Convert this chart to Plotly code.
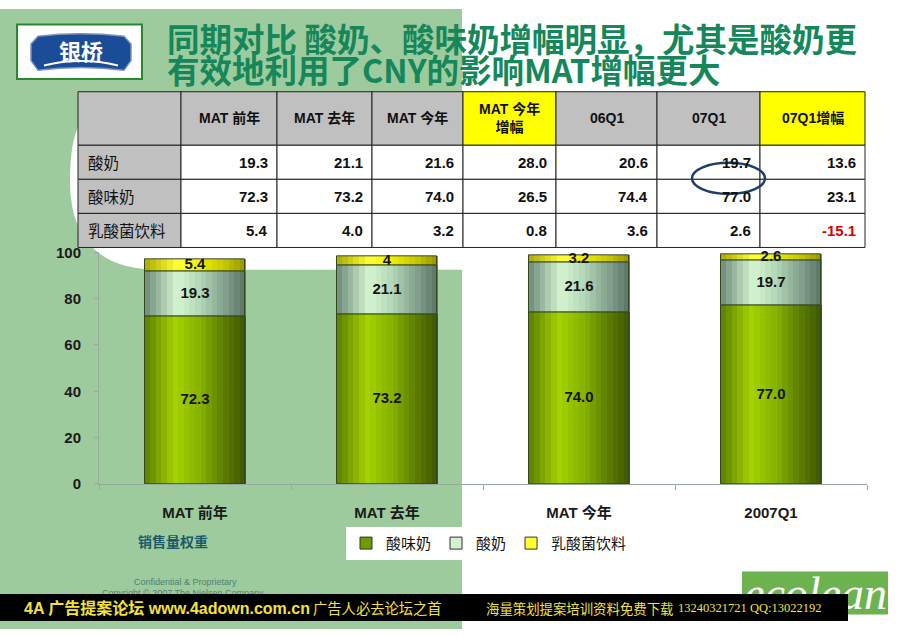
import plotly.graph_objects as go

# ---------------- data ----------------
categories = ["MAT 前年", "MAT 去年", "MAT 今年", "2007Q1"]
series_names = ["酸味奶", "酸奶", "乳酸菌饮料"]
sour_flavored = [72.3, 73.2, 74.0, 77.0]   # 酸味奶
yogurt = [19.3, 21.1, 21.6, 19.7]          # 酸奶
lactic_drink = [5.4, 4.0, 3.2, 2.6]        # 乳酸菌饮料
lactic_labels = ["5.4", "4", "3.2", "2.6"]
y_ticks = [0, 20, 40, 60, 80, 100]

table_header = ["", "MAT 前年", "MAT 去年", "MAT 今年", "MAT 今年<br>增幅", "06Q1", "07Q1", "07Q1增幅"]
table_rows = ["酸奶", "酸味奶", "乳酸菌饮料"]
col_mat_prev = [19.3, 72.3, 5.4]
col_mat_last = [21.1, 73.2, 4.0]
col_mat_now = [21.6, 74.0, 3.2]
col_mat_growth = [28.0, 26.5, 0.8]
col_06q1 = [20.6, 74.4, 3.6]
col_07q1 = [19.7, 77.0, 2.6]
col_07q1_growth = [13.6, 23.1, -15.1]
highlight_cols = [4, 7]   # yellow header columns

title_line1 = "同期对比 酸奶、酸味奶增幅明显，尤其是酸奶更"
title_line2 = "有效地利用了CNY的影响MAT增幅更大"

# ---------------- helpers ----------------
W, H = 920, 637
def px(x):
    return x / W
def py(y):
    return 1 - y / H

def hex2rgb(h):
    h = h.lstrip('#')
    return [int(h[i:i + 2], 16) for i in (0, 2, 4)]

def interp(stops, t):
    for (t0, c0), (t1, c1) in zip(stops[:-1], stops[1:]):
        if t0 <= t <= t1:
            a = (t - t0) / (t1 - t0)
            r0, r1 = hex2rgb(c0), hex2rgb(c1)
            return "rgb(%d,%d,%d)" % tuple(round(r0[k] + (r1[k] - r0[k]) * a) for k in range(3))
    return stops[-1][1]

green_stops = [(0, '#5c7d00'), (0.3, '#a4d300'), (0.55, '#86b200'), (0.8, '#5a7a00'), (1, '#3e5800')]
pale_stops = [(0, '#6c887a'), (0.32, '#d6f6d2'), (0.55, '#b2d6b6'), (0.8, '#819f8c'), (1, '#5a7466')]
yellow_stops = [(0, '#a8a800'), (0.32, '#ffff3a'), (0.55, '#f0f000'), (0.8, '#c4c400'), (1, '#959500')]
legend_colors = ['#6f9a00', '#d6f0d2', '#ffff33']

FONT = "Liberation Sans, Noto Sans CJK SC, sans-serif"
CJK = "Noto Sans CJK SC, sans-serif"

fig = go.Figure()

# ---------------- stacked bars with gradient strips ----------------
series_vals = [sour_flavored, yogurt, lactic_drink]
series_stops = [green_stops, pale_stops, yellow_stops]
BW = 0.525
N = 18
bases = []
running = [0.0] * len(categories)
for vals in series_vals:
    bases.append(list(running))
    running = [r + v for r, v in zip(running, vals)]

for vals, base, stops in zip(series_vals, bases, series_stops):
    for i in range(N):
        t = (i + 0.5) / N
        fig.add_trace(go.Bar(
            x=categories, y=vals, base=base,
            width=BW / N * 1.1, offset=-BW / 2 + i * BW / N,
            marker=dict(color=interp(stops, t), line=dict(width=0)),
            showlegend=False, hoverinfo='skip'))
    fig.add_trace(go.Bar(
        x=categories, y=vals, base=base, width=BW, offset=-BW / 2,
        marker=dict(color='rgba(0,0,0,0)', line=dict(color='#34471c', width=1)),
        showlegend=False, hoverinfo='skip'))

# legend entries
for name, col in zip(series_names, legend_colors):
    fig.add_trace(go.Bar(x=[categories[0]], y=[None], name=name,
                         marker=dict(color=col, line=dict(color='#333333', width=1)),
                         showlegend=True))

# value labels
label_texts = [[f"{v:.1f}" for v in sour_flavored], [f"{v:.1f}" for v in yogurt], lactic_labels]
for vals, base, txt in zip(series_vals, bases, label_texts):
    fig.add_trace(go.Scatter(
        x=categories, y=[b + v / 2 for b, v in zip(base, vals)], text=txt,
        mode='text', textfont=dict(family=FONT, size=15, color='#151515', weight='bold'),
        showlegend=False, hoverinfo='skip', cliponaxis=False))

# ---------------- axes / layout ----------------
axis_col = '#98aaa0'
fig.update_layout(
    width=W, height=H, autosize=False,
    margin=dict(l=0, r=0, t=0, b=0),
    paper_bgcolor='#ffffff', plot_bgcolor='rgba(0,0,0,0)',
    barmode='overlay', bargap=0,
    xaxis=dict(domain=[px(99), px(867)], type='category', range=[-0.5, 3.5],
               tickson='boundaries', ticks='outside', ticklen=5, tickcolor=axis_col,
               showline=True, linecolor=axis_col, showgrid=False, ticklabelstandoff=15,
               tickfont=dict(family=FONT, size=15, color='#1a1a1a', weight='bold')),
    yaxis=dict(domain=[py(488), py(250)], range=[0, 100], tickvals=y_ticks,
               ticks='outside', ticklen=4, tickcolor=axis_col, showline=True, linecolor=axis_col,
               showgrid=False, zeroline=False, ticklabelstandoff=10,
               tickfont=dict(family=FONT, size=15, color='#1a1a1a', weight='bold')),
    legend=dict(orientation='h', x=px(346), y=py(549), xanchor='left', yanchor='middle',
                bgcolor='#ffffff', font=dict(family=CJK, size=15, color='#111111'),
                itemwidth=30, traceorder='normal', tracegroupgap=0),
    showlegend=True,
)

# ---------------- background shapes ----------------
shapes = [
    dict(type='rect', xref='paper', yref='paper', x0=px(0), x1=px(462), y0=py(637), y1=py(0),
         fillcolor='#9dcb9d', line=dict(width=0), layer='below'),
    dict(type='path', xref='paper', yref='paper',
         path=(f"M {px(80)},{py(118)} Q {px(70)},{py(135)} {px(70)},{py(177)} "
               f"Q {px(70)},{py(268)} {px(160)},{py(268)} L {px(462)},{py(268)} L {px(462)},{py(100)} Z"),
         fillcolor='#ffffff', line=dict(width=0), layer='below'),
    # logo
    dict(type='rect', xref='paper', yref='paper', x0=px(17), x1=px(142), y0=py(72), y1=py(16),
         fillcolor='#ffffff', line=dict(color='#2a8a2a', width=2), layer='below'),
    dict(type='path', xref='paper', yref='paper',
         path=(f"M {px(38)},{py(28)} Q {px(81)},{py(23)} {px(124)},{py(28)} L {px(131)},{py(36)} "
               f"L {px(131)},{py(53)} L {px(124)},{py(63)} Q {px(81)},{py(57)} {px(38)},{py(63)} "
               f"L {px(31)},{py(53)} L {px(31)},{py(36)} Z"),
         fillcolor='#1b4c98', line=dict(color='#7d93b8', width=1.5), layer='below'),
    dict(type='path', xref='paper', yref='paper',
         path=f"M {px(44)},{py(58)} Q {px(81)},{py(49)} {px(118)},{py(58)}",
         line=dict(color='#ffffff', width=2), layer='below'),
    # ecolean logo box
    dict(type='rect', xref='paper', yref='paper', x0=px(742), x1=px(888), y0=py(622), y1=py(578),
         fillcolor='#6cb34f', line=dict(width=0), layer='below'),
]

# ---------------- table (drawn cell by cell) ----------------
col_edges = [78, 181, 277, 372, 463, 556, 657, 760, 865]
row_edges = [85, 140, 175, 210, 245]
data_cols = [col_mat_prev, col_mat_last, col_mat_now, col_mat_growth, col_06q1, col_07q1, col_07q1_growth]

ann = []
for r in range(len(row_edges) - 1):
    for c in range(len(col_edges) - 1):
        if r == 0:
            fill = '#ffff00' if c in highlight_cols else '#c0c0c0'
        else:
            fill = '#c0c0c0' if c == 0 else '#ffffff'
        shapes.append(dict(type='rect', xref='paper', yref='paper',
                           x0=px(col_edges[c]), x1=px(col_edges[c + 1]),
                           y0=py(row_edges[r + 1]), y1=py(row_edges[r]),
                           fillcolor=fill, line=dict(color='#222222', width=1), layer='below'))
        yc = py((row_edges[r] + row_edges[r + 1]) / 2)
        if r == 0:
            if table_header[c]:
                ann.append(dict(text=table_header[c], x=px((col_edges[c] + col_edges[c + 1]) / 2), y=yc,
                                xanchor='center', yanchor='middle',
                                font=dict(family=FONT, size=14, color='#111111', weight='bold')))
        elif c == 0:
            ann.append(dict(text=table_rows[r - 1], x=px(col_edges[0] + 8), y=yc,
                            xanchor='left', yanchor='middle',
                            font=dict(family=CJK, size=15.5, color='#111111')))
        else:
            v = data_cols[c - 1][r - 1]
            ann.append(dict(text=f"{v:.1f}", x=px(col_edges[c + 1] - 7), y=yc,
                            xanchor='right', yanchor='middle',
                            font=dict(family=FONT, size=15, weight='bold',
                                      color='#dd0000' if v < 0 else '#111111')))

# highlight ellipse
shapes.append(dict(type='circle', xref='paper', yref='paper', x0=px(692), x1=px(765), y0=py(190), y1=py(158),
                   line=dict(color='#1f3d6b', width=2.5), layer='above'))
fig.update_layout(shapes=shapes)

# ---------------- annotations ----------------
ann += [
    dict(text=title_line1, x=px(165), y=py(29), xanchor='left', yanchor='middle',
         font=dict(family=CJK, size=32.5, color='#15875a', weight='bold')),
    dict(text=title_line2, x=px(165), y=py(61), xanchor='left', yanchor='middle',
         font=dict(family=CJK, size=32.5, color='#15875a', weight='bold')),
    dict(text="银桥", x=px(81), y=py(42), xanchor='center', yanchor='middle',
         font=dict(family=CJK, size=22, color='#ffffff', weight='bold')),
    dict(text="销售量权重", x=px(173), y=py(547), xanchor='center', yanchor='middle',
         font=dict(family=CJK, size=14, color='#1b5b6b', weight='bold')),
    dict(text="Confidential & Proprietary", x=px(185), y=py(589), xanchor='center', yanchor='middle',
         font=dict(family=FONT, size=9, color='#4f7f70')),
    dict(text="Copyright © 2007 The Nielsen Company", x=px(183), y=py(600), xanchor='center', yanchor='middle',
         font=dict(family=FONT, size=9, color='#4f7f70')),
    dict(text="ecolean", x=px(815), y=py(601), xanchor='center', yanchor='middle',
         font=dict(family="Liberation Serif, serif", size=46, color='#ffffff', style='italic')),
    # black banner
    dict(text=" ", x=px(0), y=py(601), xanchor='left', yanchor='top', width=848, height=27,
         bgcolor='#000000', borderpad=0, borderwidth=0),
    dict(text="<b>4A 广告提案论坛 www.4adown.com.cn</b>", x=px(22), y=py(615), xanchor='left', yanchor='middle',
         font=dict(family=FONT, size=16, color='#f3e23c')),
    dict(text="广告人必去论坛之首", x=px(311), y=py(615), xanchor='left', yanchor='middle',
         font=dict(family=CJK, size=14.3, color='#f3e23c')),
    dict(text="海量策划提案培训资料免费下载", x=px(484), y=py(615), xanchor='left', yanchor='middle',
         font=dict(family=CJK, size=13.4, color='#f3e23c')),
    dict(text="13240321721 QQ:13022192", x=px(676), y=py(615), xanchor='left', yanchor='middle',
         font=dict(family="Liberation Serif, serif", size=12.5, color='#f3e23c')),
]
for a in ann:
    a.setdefault('xref', 'paper')
    a.setdefault('yref', 'paper')
    a.setdefault('showarrow', False)
fig.update_layout(annotations=ann)

fig.write_html("out.html")
